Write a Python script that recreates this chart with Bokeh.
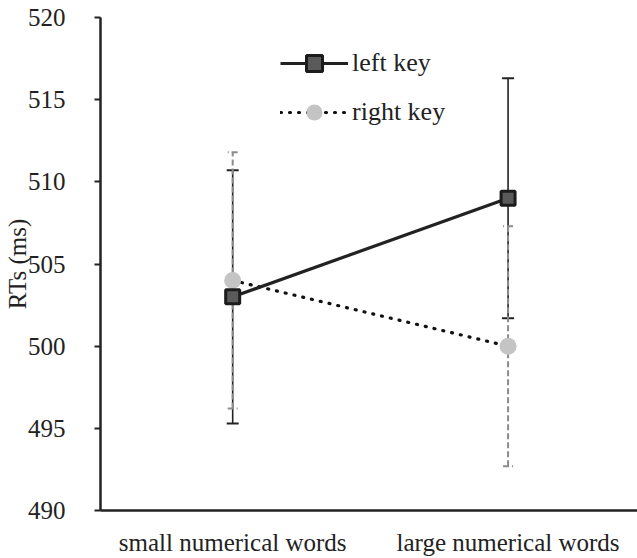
from bokeh.plotting import figure
from bokeh.models import ColumnDataSource, Whisker, TeeHead, Range1d, FixedTicker, Legend, LegendItem
from bokeh.embed import file_html
from bokeh.resources import INLINE

categories = ["small numerical words", "large numerical words"]
cat_pos = [1, 2]
left_key = [503.0, 509.0]
left_err = [7.7, 7.3]
right_key = [504.0, 500.0]
right_err = [7.8, 7.3]
y_ticks = [490, 495, 500, 505, 510, 515, 520]

FONT = "Liberation Serif"

p = figure(width=637, height=558, output_backend="svg", toolbar_location=None,
           x_range=Range1d(0.52, 2.47), y_range=Range1d(490, 520),
           min_border_left=97, min_border_top=17, min_border_right=0, min_border_bottom=44)
p.outline_line_color = None
p.xgrid.grid_line_color = None
p.ygrid.grid_line_color = None
p.background_fill_color = "white"
p.border_fill_color = "white"

# axes
p.yaxis.ticker = FixedTicker(ticks=y_ticks)
p.yaxis.major_tick_out = 6
p.yaxis.major_tick_in = 0
p.yaxis.minor_tick_line_color = None
p.yaxis.axis_line_width = 2.5
p.yaxis.axis_line_color = "#222222"
p.yaxis.major_tick_line_width = 2
p.yaxis.major_tick_line_color = "#222222"
p.yaxis.major_label_text_font = FONT
p.yaxis.major_label_text_font_size = "25px"
p.yaxis.major_label_text_color = "#222222"
p.yaxis.major_label_standoff = 29
p.yaxis.axis_label = "RTs (ms)"
p.yaxis.axis_label_text_font = FONT
p.yaxis.axis_label_text_font_style = "normal"
p.yaxis.axis_label_text_font_size = "25px"
p.yaxis.axis_label_text_color = "#222222"
p.yaxis.axis_label_standoff = -6

p.xaxis.ticker = FixedTicker(ticks=cat_pos)
p.xaxis.major_label_overrides = {cat_pos[i]: categories[i] for i in range(len(cat_pos))}
p.xaxis.major_tick_line_color = None
p.xaxis.minor_tick_line_color = None
p.xaxis.axis_line_width = 2.5
p.xaxis.axis_line_color = "#222222"
p.xaxis.major_label_text_font = FONT
p.xaxis.major_label_text_font_size = "25px"
p.xaxis.major_label_text_color = "#222222"
p.xaxis.major_label_standoff = 12

# error bars
src_l = ColumnDataSource(dict(x=cat_pos,
                              upper=[m + e for m, e in zip(left_key, left_err)],
                              lower=[m - e for m, e in zip(left_key, left_err)]))
src_r = ColumnDataSource(dict(x=cat_pos,
                              upper=[m + e for m, e in zip(right_key, right_err)],
                              lower=[m - e for m, e in zip(right_key, right_err)]))
w_l = Whisker(source=src_l, base="x", upper="upper", lower="lower",
              line_color="#222222", line_width=1.6,
              upper_head=TeeHead(size=12, line_color="#222222", line_width=2),
              lower_head=TeeHead(size=12, line_color="#222222", line_width=2))
w_r = Whisker(source=src_r, base="x", upper="upper", lower="lower",
              line_color="#8c8c8c", line_width=2, line_dash="6 3",
              upper_head=TeeHead(size=10, line_color="#8c8c8c", line_width=2, line_dash="6 3"),
              lower_head=TeeHead(size=10, line_color="#8c8c8c", line_width=2, line_dash="6 3"))
p.add_layout(w_l)
p.add_layout(w_r)

# lines and markers
r_line = p.line(cat_pos, right_key, line_color="#111111", line_width=3.2, line_dash="1 8", line_cap="round")
r_mark = p.scatter(cat_pos, right_key, marker="circle", size=17, fill_color="#c4c4c4", line_color=None)
l_line = p.line(cat_pos, left_key, line_color="#222222", line_width=3.2)
l_mark = p.scatter(cat_pos, left_key, marker="square", size=14, fill_color="#5a5a5a",
                   line_color="#1c1c1c", line_width=3)

legend = Legend(items=[LegendItem(label="left key", renderers=[l_line, l_mark]),
                       LegendItem(label="right key", renderers=[r_line, r_mark])],
                location=(180, 378), orientation="vertical",
                glyph_width=68, glyph_height=40, label_height=40, spacing=9,
                padding=0, margin=0, border_line_color=None, background_fill_alpha=0,
                label_text_font=FONT, label_text_font_size="26px", label_text_color="#222222",
                label_standoff=4)
p.add_layout(legend)

open("out.html", "w").write(file_html(p, INLINE))
